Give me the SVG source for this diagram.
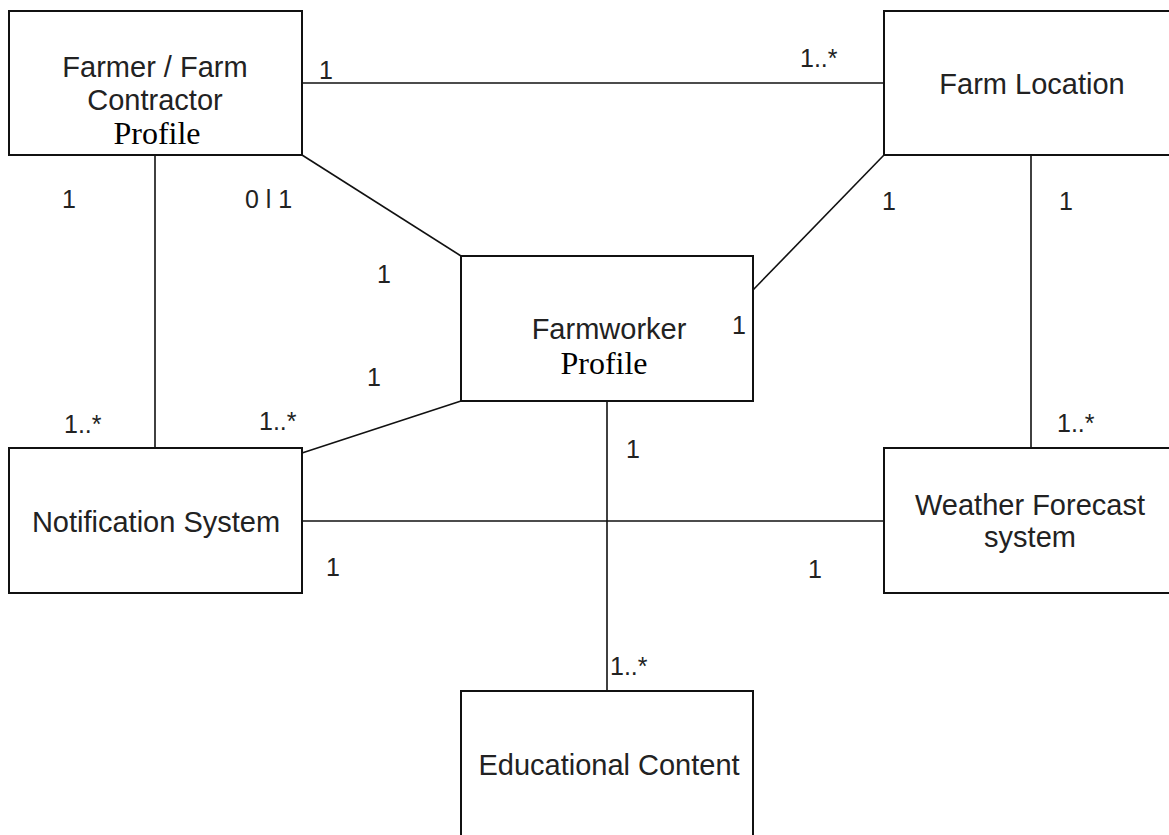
<svg xmlns="http://www.w3.org/2000/svg" width="1169" height="835" viewBox="0 0 1169 835">
<style>
.box{fill:#fff;stroke:#111;stroke-width:2}
.conn line{stroke:#111;stroke-width:1.6}
.lbl{font-family:"Liberation Sans",Arial,sans-serif;font-size:29px;fill:#222;text-anchor:middle}
.ser{font-family:"Liberation Serif","Times New Roman",serif;font-size:32px;fill:#000;text-anchor:middle}
.m{font-family:"Liberation Sans",Arial,sans-serif;font-size:25px;fill:#222}
</style>
<rect width="1169" height="835" fill="#fff"/>
<g class="conn" id="connectors">
<line x1="302" y1="83" x2="884" y2="83"/>
<line x1="155" y1="155" x2="155" y2="448"/>
<line x1="302" y1="155" x2="461" y2="256"/>
<line x1="884" y1="155" x2="753" y2="290"/>
<line x1="1031" y1="155" x2="1031" y2="448"/>
<line x1="302" y1="453" x2="461" y2="401"/>
<line x1="302" y1="521" x2="884" y2="521"/>
<line x1="607" y1="401" x2="607" y2="691"/>
</g>
<g id="farmer">
<rect class="box" x="9" y="11" width="293" height="144"/>
<text class="lbl" x="155" y="77">Farmer / Farm</text>
<text class="lbl" x="155" y="110">Contractor</text>
<text class="ser" x="157" y="144">Profile</text>
</g>
<g id="farm-location">
<rect class="box" x="884" y="11" width="296" height="144"/>
<text class="lbl" x="1032" y="94">Farm Location</text>
</g>
<g id="farmworker">
<rect class="box" x="461" y="256" width="292" height="145"/>
<text class="lbl" x="609" y="339">Farmworker</text>
<text class="ser" x="604" y="374">Profile</text>
</g>
<g id="notification">
<rect class="box" x="9" y="448" width="293" height="145"/>
<text class="lbl" x="156" y="532">Notification System</text>
</g>
<g id="weather">
<rect class="box" x="884" y="448" width="296" height="145"/>
<text class="lbl" x="1030" y="515">Weather Forecast</text>
<text class="lbl" x="1030" y="547">system</text>
</g>
<g id="educational">
<rect class="box" x="461" y="691" width="292" height="160"/>
<text class="lbl" x="609" y="775">Educational Content</text>
</g>
<g id="multiplicities">
<text class="m" x="319" y="79">1</text>
<text class="m" x="800" y="67">1..*</text>
<text class="m" x="62" y="208">1</text>
<text class="m" x="245" y="208">0 l 1</text>
<text class="m" x="377" y="283">1</text>
<text class="m" x="367" y="386">1</text>
<text class="m" x="64" y="433">1..*</text>
<text class="m" x="259" y="430">1..*</text>
<text class="m" x="882" y="210">1</text>
<text class="m" x="1059" y="210">1</text>
<text class="m" x="732" y="334">1</text>
<text class="m" x="1057" y="432">1..*</text>
<text class="m" x="626" y="458">1</text>
<text class="m" x="610" y="675">1..*</text>
<text class="m" x="326" y="576">1</text>
<text class="m" x="808" y="578">1</text>
</g>
</svg>
